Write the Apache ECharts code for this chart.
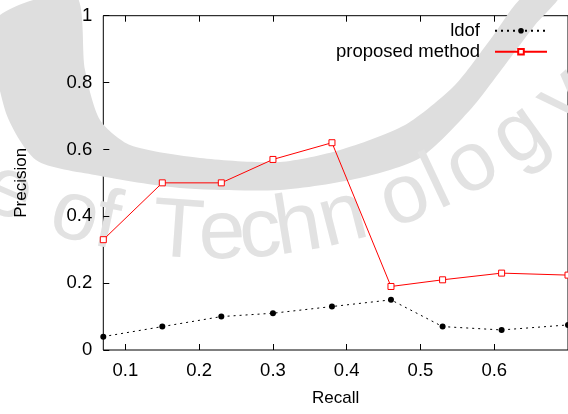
<!DOCTYPE html>
<html>
<head>
<meta charset="utf-8">
<script src="https://cdn.jsdelivr.net/npm/echarts@6/dist/echarts.min.js"></script>
<style>
  html, body { margin: 0; padding: 0; background: #fff; }
  #chart { width: 568px; height: 414px; }
</style>
</head>
<body>
<div id="chart"></div>
<script>
// Precision / recall values for the two methods
const recall = [0.07, 0.15, 0.23, 0.30, 0.38, 0.46, 0.53, 0.61, 0.70];
const ldofPrecision = [0.04, 0.07, 0.10, 0.11, 0.13, 0.15, 0.07, 0.06, 0.075];
const proposedPrecision = [0.33, 0.50, 0.50, 0.57, 0.62, 0.19, 0.21, 0.23, 0.224];
const seriesNames = ['ldof', 'proposed method'];
const xTickValues = [0.1, 0.2, 0.3, 0.4, 0.5, 0.6, 0.7];
const xLabelValues = [0.1, 0.2, 0.3, 0.4, 0.5, 0.6];
const yTickValues = [0, 0.2, 0.4, 0.6, 0.8, 1];

// Faint seal in the background: a crescent band and curved lettering
const bandOuterEdge = [[-5, 20], [5, 110], [36, 160], [95, 175], [180, 188], [280, 190], [360, 178],
                       [420, 158], [470, 110], [505, 65], [535, 25], [560, -5]];
const bandInnerEdge = [[525, -5], [490, 40], [455, 85], [405, 125], [340, 150], [280, 162],
                       [200, 158], [130, 145], [100, 120], [85, 70], [75, -5]];
const sealLetters = ['e', 'o', 'f', 'T', 'e', 'c', 'h', 'n', 'o', 'l', 'o', 'g', 'y'];
const sealLetterX = [8, 75, 107, 178, 222, 260, 298, 343, 405, 437, 472, 520, 565];

const FONT = '"Liberation Sans", Arial, Helvetica, sans-serif';
const BAND_GREY = '#dedede';
const TEXT_GREY = '#e2e2e2';
const lettering = { cx: 214, cy: -286, r: 521, fontSize: 84 };

const sealGraphics = [{
  type: 'polygon',
  z: 0,
  silent: true,
  shape: { points: bandOuterEdge.concat(bandInnerEdge), smooth: 0.25 },
  style: { fill: BAND_GREY, stroke: null }
}];
sealLetters.forEach(function (ch, i) {
  const phi = Math.asin((sealLetterX[i] - lettering.cx) / lettering.r);
  sealGraphics.push({
    type: 'text',
    z: 0,
    silent: true,
    x: lettering.cx + lettering.r * Math.sin(phi),
    y: lettering.cy + lettering.r * Math.cos(phi),
    rotation: phi,
    style: {
      text: ch, x: 0, y: 0,
      fontSize: lettering.fontSize, fontFamily: FONT,
      fill: TEXT_GREY, align: 'center', verticalAlign: 'middle'
    }
  });
});

const chart = echarts.init(document.getElementById('chart'), null, { renderer: 'canvas' });

const fmt = function (v) { return String(Number(v.toFixed(2))); };

chart.setOption({
  animation: false,
  backgroundColor: '#fff',
  graphic: { elements: sealGraphics },
  grid: {
    left: 103.3, top: 15.7, right: -12.7, bottom: 64,
    show: true, borderColor: '#000', borderWidth: 1, backgroundColor: 'transparent'
  },
  legend: {
    data: seriesNames,
    orient: 'vertical',
    align: 'right',
    right: 20,
    top: 20.7,
    padding: 0,
    itemWidth: 52,
    itemHeight: 7,
    itemGap: 1,
    selectedMode: false,
    textStyle: { fontFamily: FONT, fontSize: 18.5, color: '#000', lineHeight: 20, padding: [0, 10, 0, 0] }
  },
  xAxis: [{
    type: 'value',
    min: 0.07, max: 0.70,
    position: 'bottom',
    name: 'Recall',
    nameLocation: 'middle',
    nameGap: 40,
    nameTextStyle: { fontFamily: FONT, fontSize: 17, color: '#000' },
    axisLine: { show: false },
    splitLine: { show: false },
    axisTick: { inside: true, length: 6, customValues: xTickValues, lineStyle: { color: '#000' } },
    axisLabel: { customValues: xLabelValues, formatter: fmt, margin: 11, fontFamily: FONT, fontSize: 18.5, color: '#000' }
  }, {
    type: 'value',
    min: 0.07, max: 0.70,
    position: 'top',
    axisLine: { show: false },
    splitLine: { show: false },
    axisTick: { inside: true, length: 6, customValues: xTickValues, lineStyle: { color: '#000' } },
    axisLabel: { show: false }
  }],
  yAxis: {
    type: 'value',
    min: 0, max: 1, interval: 0.2,
    name: 'Precision',
    nameLocation: 'middle',
    nameGap: 73,
    nameTextStyle: { fontFamily: FONT, fontSize: 17, color: '#000' },
    axisLine: { show: false },
    splitLine: { show: false },
    axisTick: { inside: true, length: 6, lineStyle: { color: '#000' } },
    axisLabel: { formatter: fmt, margin: 11, fontFamily: FONT, fontSize: 18.5, color: '#000' }
  },
  series: [{
    name: seriesNames[0],
    type: 'line',
    z: 3,
    data: recall.map(function (x, i) { return [x, ldofPrecision[i]]; }),
    symbol: 'circle',
    symbolSize: 6,
    lineStyle: { color: '#000', width: 1, type: [2, 4] },
    itemStyle: { color: '#000' }
  }, {
    name: seriesNames[1],
    type: 'line',
    z: 4,
    data: recall.map(function (x, i) { return [x, proposedPrecision[i]]; }),
    symbol: 'rect',
    symbolSize: 6,
    lineStyle: { color: '#ff0000', width: 1 },
    itemStyle: { color: '#ffffff', borderColor: '#ff0000', borderWidth: 1 }
  }]
});
</script>
</body>
</html>
